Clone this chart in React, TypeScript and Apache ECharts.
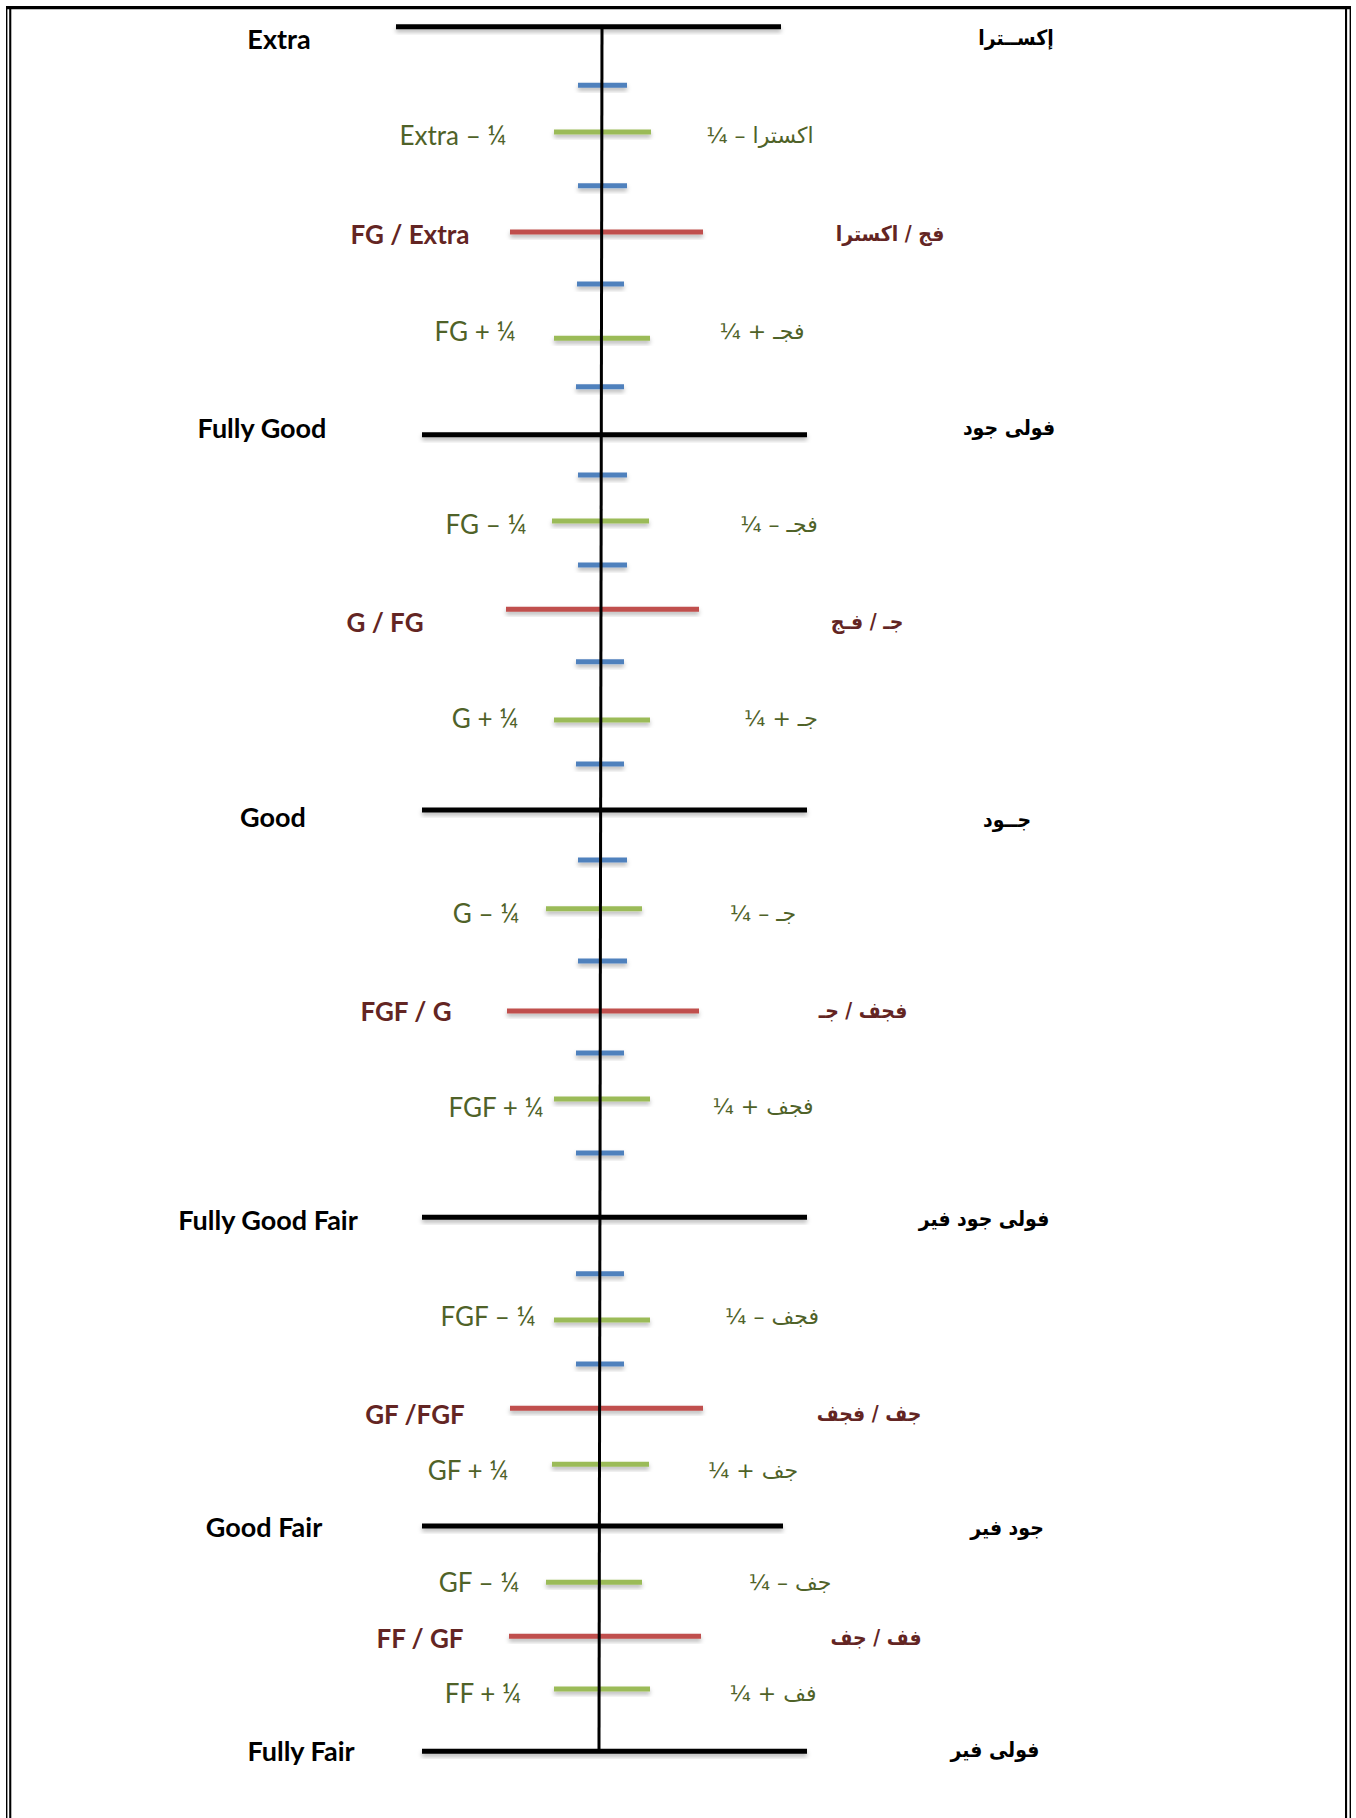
import React, { useEffect, useRef } from "react";
import * as echarts from "echarts";

// ---- data: grading scale rows, top (Extra) to bottom (Fully Fair) ----
const gradesEn = [
  "Extra", "", "Extra – ¼", "", "FG / Extra", "", "FG + ¼", "",
  "Fully Good", "", "FG – ¼", "", "G / FG", "", "G + ¼", "",
  "Good", "", "G – ¼", "", "FGF / G", "", "FGF + ¼", "",
  "Fully Good Fair", "", "FGF – ¼", "", "GF /FGF", "GF + ¼",
  "Good Fair", "GF – ¼", "FF / GF", "FF + ¼", "Fully Fair",
];
const gradesAr = [
  "إكســترا", "", "¼ – اكسترا", "", "فج / اكسترا", "", "¼ + فجـ", "",
  "فولى جود", "", "¼ – فجـ", "", "جـ / فـج", "", "¼ + جـ", "",
  "جــود", "", "¼ – جـ", "", "فجف / جـ", "", "¼ + فجف", "",
  "فولى جود فير", "", "¼ – فجف", "", "جف / فجف", "¼ + جف",
  "جود فير", "¼ – جف", "فف / جف", "¼ + فف", "فولى فير",
];
// 0 = full grade, 1 = half grade, 2 = quarter grade, 3 = eighth tick
const tiers = [
  0, 3, 2, 3, 1, 3, 2, 3,
  0, 3, 2, 3, 1, 3, 2, 3,
  0, 3, 2, 3, 1, 3, 2, 3,
  0, 3, 2, 3, 1, 2,
  0, 2, 1, 2, 0,
];
// vertical position of each grade on the scale
const levels = [
  26.7, 85.3, 132, 185.7, 232, 284, 338.3, 386.7,
  434.7, 475, 521, 565, 609.3, 661.7, 720, 764,
  810, 860, 908.7, 961, 1011, 1053, 1099, 1153,
  1217.3, 1273.7, 1320, 1364, 1408.3, 1464.3,
  1526, 1582.3, 1636.3, 1689, 1751.3,
];

// ---- layout (positions kept apart from the data) ----
const markFrom = [
  396, 578, 554, 578, 510, 577, 554, 576,
  422, 578, 552, 578, 506, 576, 554, 576,
  422, 578, 546, 578, 507, 576, 554, 576,
  422, 576, 554, 576, 510, 552,
  422, 546, 509, 554, 422,
];
const markTo = [
  781, 627, 651, 627, 703, 624, 650, 624,
  807, 627, 649, 627, 699, 624, 650, 624,
  807, 627, 642, 627, 699, 624, 650, 624,
  807, 624, 650, 624, 703, 649,
  783, 642, 701, 650, 807,
];
const enCenterX = [
  279, 0, 453, 0, 410, 0, 475, 0,
  262, 0, 486, 0, 385, 0, 485, 0,
  273, 0, 486, 0, 406, 0, 496, 0,
  268, 0, 488, 0, 415, 468,
  264, 479, 420, 483, 301,
];
const enY = [
  38, 0, 135, 0, 234, 0, 331, 0,
  427, 0, 524, 0, 622, 0, 718, 0,
  816, 0, 913, 0, 1011, 0, 1107, 0,
  1219, 0, 1316, 0, 1414, 1470,
  1526, 1582, 1638, 1693, 1750,
];
const arCenterX = [
  1016, 0, 760, 0, 890, 0, 762, 0,
  1009, 0, 779, 0, 867, 0, 781, 0,
  1007, 0, 763, 0, 863, 0, 763, 0,
  984, 0, 772, 0, 869, 753,
  1007, 790, 876, 773, 995,
];
const arY = [
  38, 0, 135, 0, 234, 0, 331, 0,
  428, 0, 524, 0, 622, 0, 718, 0,
  820, 0, 913, 0, 1011, 0, 1106, 0,
  1219, 0, 1316, 0, 1414, 1470,
  1528, 1582, 1638, 1693, 1750,
];
const spineX = [602, 599];
const spineY = [27, 1751];

const tierColor = ["#000000", "#C0504D", "#9BBB59", "#4F81BD"];
const labelColor = ["#000000", "#632523", "#4F6228", "#4F6228"];
const labelWeight = ["bold", "bold", "normal", "normal"];
const labelSize = [27, 26, 26, 26];
const arFamily = [
  "'DejaVu Sans Condensed', 'DejaVu Sans', sans-serif",
  "'DejaVu Sans Condensed', 'DejaVu Sans', sans-serif",
  "'DejaVu Sans', sans-serif",
  "'DejaVu Sans', sans-serif",
];
const arSize = [21, 21, 22, 22];

export default function App() {
  const ref = useRef<HTMLDivElement>(null);
  useEffect(() => {
    if (!ref.current) return;
    const chart = echarts.init(ref.current, null, { renderer: "svg" });

    const markData = levels.map((y, i) => [markFrom[i], y, markTo[i], tiers[i]]);
    const enData = levels
      .map((_, i) => [enCenterX[i], enY[i], i])
      .filter((d) => gradesEn[d[2]] !== "");
    const arData = levels
      .map((_, i) => [arCenterX[i], arY[i], i])
      .filter((d) => gradesAr[d[2]] !== "");

    chart.setOption({
      animation: false,
      backgroundColor: "#ffffff",
      grid: { left: 0, top: 0, right: 0, bottom: 0 },
      xAxis: { type: "value", min: 0, max: 1356, show: false },
      yAxis: { type: "value", min: 0, max: 1818, inverse: true, show: false },
      graphic: [
        { type: "rect", shape: { x: 6, y: 6, width: 1345, height: 3.3 }, style: { fill: "#000" } },
        { type: "rect", shape: { x: 6, y: 6, width: 1.4, height: 1812 }, style: { fill: "#000" } },
        { type: "rect", shape: { x: 9.2, y: 9, width: 2.1, height: 1809 }, style: { fill: "#000" } },
        { type: "rect", shape: { x: 1345, y: 9, width: 2.1, height: 1809 }, style: { fill: "#000" } },
        { type: "rect", shape: { x: 1349.6, y: 6, width: 1.4, height: 1812 }, style: { fill: "#000" } },
      ],
      series: [
        {
          type: "custom",
          coordinateSystem: "cartesian2d",
          data: markData,
          z: 2,
          renderItem: (params: any, api: any) => {
            const p0 = api.coord([api.value(0), api.value(1)]);
            const p1 = api.coord([api.value(2), api.value(1)]);
            const t = api.value(3);
            return {
              type: "rect",
              shape: { x: p0[0], y: p0[1] - 2.5, width: p1[0] - p0[0], height: 5 },
              style: {
                fill: tierColor[t],
                shadowBlur: 4,
                shadowOffsetY: 3,
                shadowColor: "rgba(0,0,0,0.28)",
              },
            };
          },
        },
        {
          type: "line",
          data: [
            [spineX[0], spineY[0]],
            [spineX[1], spineY[1]],
          ],
          symbol: "none",
          z: 3,
          lineStyle: { color: "#000", width: 3 },
        },
        {
          type: "custom",
          coordinateSystem: "cartesian2d",
          data: enData,
          z: 4,
          renderItem: (params: any, api: any) => {
            const p = api.coord([api.value(0), api.value(1)]);
            const i = api.value(2);
            const t = tiers[i];
            return {
              type: "text",
              style: {
                text: gradesEn[i],
                x: p[0],
                y: p[1],
                align: "center",
                verticalAlign: "middle",
                fill: labelColor[t],
                fontFamily: "Lato, 'DejaVu Sans', sans-serif",
                fontWeight: labelWeight[t],
                fontSize: labelSize[t],
              },
            };
          },
        },
        {
          type: "custom",
          coordinateSystem: "cartesian2d",
          data: arData,
          z: 4,
          renderItem: (params: any, api: any) => {
            const p = api.coord([api.value(0), api.value(1)]);
            const i = api.value(2);
            const t = tiers[i];
            return {
              type: "text",
              style: {
                text: gradesAr[i],
                x: p[0],
                y: p[1],
                align: "center",
                verticalAlign: "middle",
                fill: labelColor[t],
                fontFamily: arFamily[t],
                fontWeight: labelWeight[t],
                fontSize: arSize[t],
              },
            };
          },
        },
      ],
    });
    return () => chart.dispose();
  }, []);
  return (
    <div
      ref={ref}
      style={{ position: "absolute", left: 0, top: 0, width: 1356, height: 1818, background: "#fff" }}
    />
  );
}
